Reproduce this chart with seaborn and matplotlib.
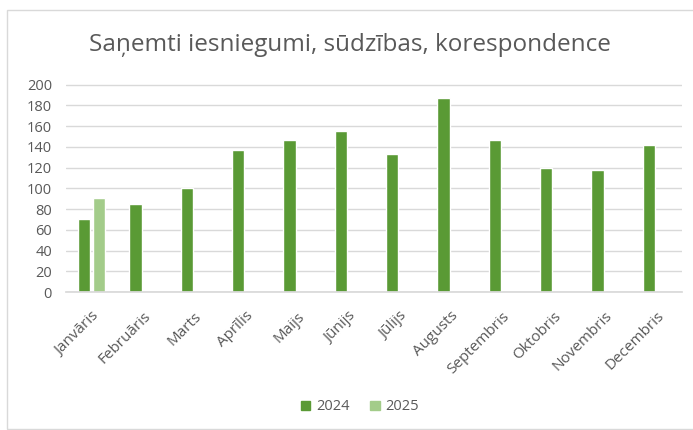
import matplotlib
matplotlib.use("Agg")
import matplotlib.pyplot as plt
import seaborn as sns
import pandas as pd
import numpy as np
from matplotlib.patches import Rectangle

months = ["Janvāris", "Februāris", "Marts", "Aprīlis", "Maijs", "Jūnijs",
          "Jūlijs", "Augusts", "Septembris", "Oktobris", "Novembris", "Decembris"]
values_2024 = [70, 85, 100, 137, 147, 155, 133, 187, 147, 120, 118, 142]
values_2025 = [91, np.nan, np.nan, np.nan, np.nan, np.nan, np.nan, np.nan, np.nan, np.nan, np.nan, np.nan]
years = ["2024", "2025"]
colors = ["#5A9A35", "#A3CC8A"]

df = pd.DataFrame({
    "Mēnesis": months * 2,
    "Gads": [years[0]] * 12 + [years[1]] * 12,
    "Vērtība": values_2024 + values_2025,
})

sns.set_theme(style="white")
plt.rcParams['font.family'] = ['Open Sans', 'DejaVu Sans']

fig = plt.figure(figsize=(6.93, 4.30), dpi=100)
ax = fig.add_axes([66/693, 1 - 292/430, 616/693, (292-70)/430])

sns.barplot(data=df, x="Mēnesis", y="Vērtība", hue="Gads", order=months,
            hue_order=years, palette=colors, width=0.58, gap=0.18,
            saturation=1, ax=ax, legend=False)

ax.set_ylim(0, 214)
ax.set_yticks(range(0, 201, 20))
ax.set_xlim(-0.5, 11.5)
ax.grid(axis="y", color="#D9D9D9", linewidth=1)
ax.set_axisbelow(True)
for s in ["top", "right", "left"]:
    ax.spines[s].set_visible(False)
ax.spines["bottom"].set_color("#D9D9D9")
ax.set_xlabel("")
ax.set_ylabel("")
ax.tick_params(axis="y", labelsize=10.5, labelcolor="#595959", length=0, pad=10)
ax.set_xticks(range(len(months)))
ax.set_xticklabels(months, rotation=45, ha="right", rotation_mode="anchor",
                   fontsize=11, color="#595959")
ax.tick_params(axis="x", length=0, pad=12)

fig.text(0.505, 1 - 45/430, "Saņemti iesniegumi, sūdzības, korespondence",
         ha="center", va="center", fontsize=17.5, color="#595959")

handles = [Rectangle((0, 0), 1, 1, color=c) for c in colors]
fig.legend(handles, years, loc="center", bbox_to_anchor=(360/693, 1 - 407/430),
           ncol=2, frameon=False, fontsize=10.5, labelcolor="#595959",
           handlelength=0.65, handleheight=0.65, handletextpad=0.4, columnspacing=1.4)

fig.patches.append(Rectangle((7/693, 1/430), 690/693, 1 - 11/430, transform=fig.transFigure,
                             fill=False, edgecolor="#D9D9D9", linewidth=1))

fig.savefig("out.png", dpi=100)
